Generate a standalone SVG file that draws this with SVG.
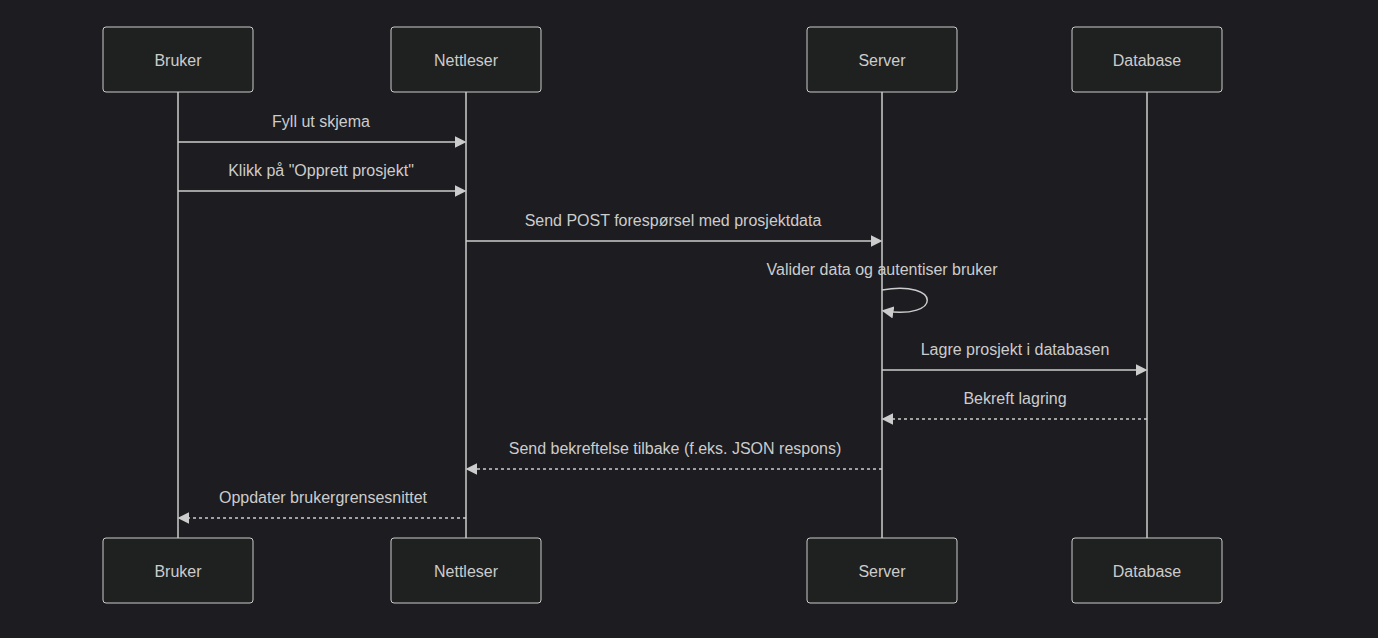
<svg xmlns="http://www.w3.org/2000/svg" width="1378" height="638" viewBox="0 0 1378 638">
<defs>
<style>
.actor{fill:#1f2020;stroke:#cccccc;stroke-width:1}
.atext{fill:#cccccc;font-family:"Liberation Sans",Arial,sans-serif;font-size:16px;text-anchor:middle;dominant-baseline:central}
.life{stroke:#cccccc;stroke-width:1.5}
.msg{fill:none;stroke:#cccccc;stroke-width:1.5}
.dash{stroke-dasharray:3,3}
.mtext{fill:#cccccc;font-family:"Liberation Sans",Arial,sans-serif;font-size:16px;text-anchor:middle}
</style>
<marker id="arrow" markerUnits="userSpaceOnUse" markerWidth="12" markerHeight="12" refX="7.9" refY="5" viewBox="0 0 10 10" orient="auto">
<path d="M0,0 L10,5 L0,10 z" fill="#cccccc"/>
</marker>
</defs>
<rect width="1378" height="638" fill="#1c1c21"/>
<g id="lifelines">
<line class="life" x1="178" y1="92" x2="178" y2="538"/>
<line class="life" x1="466" y1="92" x2="466" y2="538"/>
<line class="life" x1="882" y1="92" x2="882" y2="538"/>
<line class="life" x1="1147" y1="92" x2="1147" y2="538"/>
</g>
<g id="actor-bruker">
<rect class="actor" x="103" y="27" width="150" height="65" rx="3"/>
<text class="atext" x="178" y="60">Bruker</text>
<rect class="actor" x="103" y="538" width="150" height="65" rx="3"/>
<text class="atext" x="178" y="571">Bruker</text>
</g>
<g id="actor-nettleser">
<rect class="actor" x="391" y="27" width="150" height="65" rx="3"/>
<text class="atext" x="466" y="60">Nettleser</text>
<rect class="actor" x="391" y="538" width="150" height="65" rx="3"/>
<text class="atext" x="466" y="571">Nettleser</text>
</g>
<g id="actor-server">
<rect class="actor" x="807" y="27" width="150" height="65" rx="3"/>
<text class="atext" x="882" y="60">Server</text>
<rect class="actor" x="807" y="538" width="150" height="65" rx="3"/>
<text class="atext" x="882" y="571">Server</text>
</g>
<g id="actor-database">
<rect class="actor" x="1072" y="27" width="150" height="65" rx="3"/>
<text class="atext" x="1147" y="60">Database</text>
<rect class="actor" x="1072" y="538" width="150" height="65" rx="3"/>
<text class="atext" x="1147" y="571">Database</text>
</g>
<g id="connectors">
<line class="msg" x1="178" y1="142" x2="464" y2="142" marker-end="url(#arrow)"/>
<line class="msg" x1="178" y1="191" x2="464" y2="191" marker-end="url(#arrow)"/>
<line class="msg" x1="466" y1="241" x2="880" y2="241" marker-end="url(#arrow)"/>
<path class="msg" d="M882,290 C942,280 942,320 884,311" marker-end="url(#arrow)"/>
<line class="msg" x1="882" y1="370" x2="1145" y2="370" marker-end="url(#arrow)"/>
<line class="msg dash" x1="1147" y1="419" x2="884" y2="419" marker-end="url(#arrow)"/>
<line class="msg dash" x1="882" y1="469" x2="468" y2="469" marker-end="url(#arrow)"/>
<line class="msg dash" x1="466" y1="518" x2="180" y2="518" marker-end="url(#arrow)"/>
</g>
<g id="labels">
<text class="mtext" x="321" y="127">Fyll ut skjema</text>
<text class="mtext" x="321" y="176">Klikk på "Opprett prosjekt"</text>
<text class="mtext" x="673" y="226">Send POST forespørsel med prosjektdata</text>
<text class="mtext" x="882" y="275">Valider data og autentiser bruker</text>
<text class="mtext" x="1015" y="355">Lagre prosjekt i databasen</text>
<text class="mtext" x="1015" y="404">Bekreft lagring</text>
<text class="mtext" x="675" y="454">Send bekreftelse tilbake (f.eks. JSON respons)</text>
<text class="mtext" x="323" y="503">Oppdater brukergrensesnittet</text>
</g>
</svg>
